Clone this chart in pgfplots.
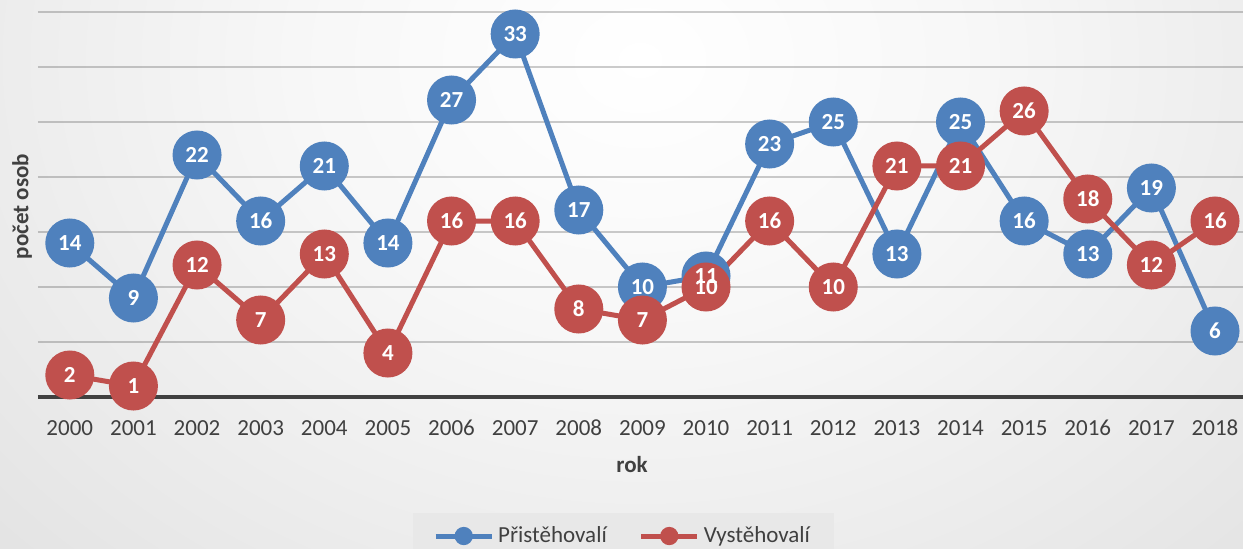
\documentclass[border=0pt]{standalone}
\usepackage{pgfplots}
\pgfplotsset{compat=1.18}
\usepackage{pgfplotstable}
\usepackage{fontspec}
\setmainfont{Carlito}
\definecolor{cBlue}{HTML}{4F81BD}
\definecolor{cRed}{HTML}{C0504D}
\definecolor{cText}{HTML}{404040}
\pgfdeclareradialshading{bgshade}{\pgfpoint{0bp}{0bp}}{color(0bp)=(white); color(12bp)=(white!97!black); color(50bp)=(black!18); color(75bp)=(black!25)}

\pgfplotstableread{
year pri vys
2000 14 2
2001 9 1
2002 22 12
2003 16 7
2004 21 13
2005 14 4
2006 27 16
2007 33 16
2008 17 8
2009 10 7
2010 11 10
2011 23 16
2012 25 10
2013 13 21
2014 25 21
2015 16 26
2016 13 18
2017 19 12
2018 6 16
}\datatable

\newcommand{\fs}{\fontsize{11.5}{13}\selectfont}

\begin{document}
\begin{tikzpicture}
\useasboundingbox (0,0) rectangle (621.5pt,274pt);
\begin{scope}
\clip (0,0) rectangle (621.5pt,274pt);
\shade[shading=bgshade] (-30pt,-36pt) rectangle (670pt,524pt);
\end{scope}
\begin{axis}[
  at={(19pt,75.5pt)}, anchor=south west,
  scale only axis, width=602.5pt, height=198.5pt,
  xmin=1999.5, xmax=2018.44, ymin=0, ymax=36.09,
  clip=false,
  axis line style={draw=none},
  major tick length=0pt,
  xtick={2000,2001,...,2018},
  xticklabels={2000,2001,2002,2003,2004,2005,2006,2007,2008,2009,2010,2011,2012,2013,2014,2015,2016,2017,2018},
  ytick={5,10,...,35}, yticklabels={},
  ymajorgrids,
  grid style={draw=black, opacity=0.2, line width=0.7pt},
  extra y ticks={0}, extra y tick labels={},
  extra y tick style={grid style={draw=cText, opacity=1, line width=2pt}},
  tick label style={font=\fs, text=cText},
  xticklabel style={anchor=center, yshift=-15.5pt},
  xlabel={rok}, ylabel={počet osob},
  label style={font=\bfseries\fs, text=cText},
  xlabel style={at={([yshift=-34pt]axis description cs:0.493,0)}, anchor=center},
  ylabel style={at={([xshift=-8pt]axis description cs:0,0.48)}, anchor=center},
  legend style={at={(0.486,-0.29)}, anchor=north, legend columns=2, draw=none,
    fill=black!9, font=\fs, text=cText, inner xsep=10pt, inner ysep=5pt,
    /tikz/every even column/.append style={column sep=14pt}},
  every node near coord/.append style={anchor=center, text=white, font=\bfseries\fs},
]
\addplot[cBlue, line width=2.5pt, mark=*, mark size=11pt, mark options={draw=none, fill=cBlue},
  legend image code/.code={\draw[cBlue, line width=2.5pt] (0pt,0pt) -- (28pt,0pt); \fill[cBlue] (14pt,0pt) circle (3.3pt);}]
  table[x=year, y=pri] {\datatable};
\addlegendentry{Přistěhovalí}
\addplot[cRed, line width=2.5pt, mark=*, mark size=11pt, mark options={draw=none, fill=cRed},
  legend image code/.code={\draw[cRed, line width=2.5pt] (0pt,0pt) -- (28pt,0pt); \fill[cRed] (14pt,0pt) circle (3.3pt);}]
  table[x=year, y=vys] {\datatable};
\addlegendentry{Vystěhovalí}
\addplot[draw=none, mark=none, forget plot, nodes near coords, point meta=explicit symbolic]
  table[x=year, y=pri, meta=pri] {\datatable};
\addplot[draw=none, mark=none, forget plot, nodes near coords, point meta=explicit symbolic]
  table[x=year, y=vys, meta=vys] {\datatable};
\end{axis}
\end{tikzpicture}
\end{document}
